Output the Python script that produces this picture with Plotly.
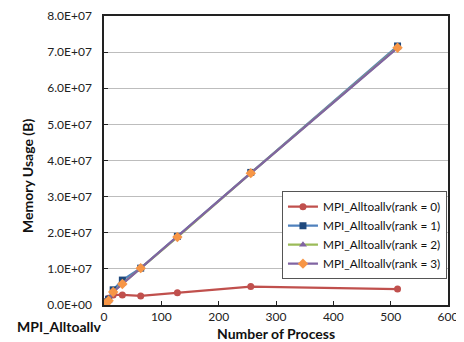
import plotly.graph_objects as go

procs = [2, 4, 8, 16, 32, 64, 128, 256, 512]
rank0 = [0.5e6, 1.0e6, 1.9e6, 2.8e6, 2.8e6, 2.5e6, 3.4e6, 5.1e6, 4.4e6]
rank1 = [0.3e6, 0.8e6, 1.6e6, 4.2e6, 6.9e6, 1.02e7, 1.9e7, 3.67e7, 7.17e7]
rank2 = [0.2e6, 0.5e6, 1.2e6, 3.7e6, 5.9e6, 1.02e7, 1.88e7, 3.65e7, 7.13e7]
rank3 = [0.2e6, 0.5e6, 1.2e6, 3.6e6, 5.8e6, 1.02e7, 1.88e7, 3.65e7, 7.12e7]
names = ["MPI_Alltoallv(rank = 0)", "MPI_Alltoallv(rank = 1)",
         "MPI_Alltoallv(rank = 2)", "MPI_Alltoallv(rank = 3)"]
ytick_vals = [0, 1e7, 2e7, 3e7, 4e7, 5e7, 6e7, 7e7, 8e7]
ytick_text = ["0.0E+00", "1.0E+07", "2.0E+07", "3.0E+07", "4.0E+07",
              "5.0E+07", "6.0E+07", "7.0E+07", "8.0E+07"]
xtick_vals = [0, 100, 200, 300, 400, 500, 600]

FONT = "Lato, 'Liberation Sans', sans-serif"

styles = [
    dict(line="#C0504D", marker="#C0504D", symbol="circle", size=7),
    dict(line="#4F81BD", marker="#1F497D", symbol="square", size=7),
    dict(line="#9BBB59", marker="#8064A2", symbol="triangle-up", size=7),
    dict(line="#8064A2", marker="#F79646", symbol="diamond", size=8),
]

fig = go.Figure()
for ys, nm, st in zip([rank0, rank1, rank2, rank3], names, styles):
    fig.add_trace(go.Scatter(
        x=procs, y=ys, name=nm, mode="lines+markers",
        line=dict(color=st["line"], width=2.2),
        marker=dict(color=st["marker"], symbol=st["symbol"], size=st["size"]),
    ))

# page body has an 8px default margin; size the figure so it fills the window
fig.update_layout(
    width=456, height=334,
    margin=dict(l=96, r=16, t=8, b=37),
    paper_bgcolor="white", plot_bgcolor="white",
    font=dict(family=FONT, size=12, color="#222"),
    showlegend=True,
    legend=dict(x=0.997, xanchor="right", y=0.394, yanchor="top",
                bgcolor="white", bordercolor="#555", borderwidth=1,
                font=dict(size=11.8, color="#111"), tracegroupgap=0,
                itemwidth=30),
    xaxis=dict(range=[0, 600], tickvals=xtick_vals, showgrid=False,
               showline=True, linecolor="#222", linewidth=1.5, mirror=True,
               ticks="inside", ticklen=4, tickcolor="#222", zeroline=False,
               automargin=False),
    yaxis=dict(range=[0, 8e7], tickvals=ytick_vals, ticktext=ytick_text,
               showgrid=True, gridcolor="#BDBDBD", gridwidth=1,
               showline=True, linecolor="#222", linewidth=1.5, mirror=True,
               ticks="inside", ticklen=4, tickcolor="#222", zeroline=False,
               ticklabelstandoff=8, automargin=False),
    annotations=[
        dict(text="<b>MPI_Alltoallv</b>", xref="paper", yref="paper",
             x=-0.259, y=-0.073, xanchor="left", yanchor="middle",
             showarrow=False, font=dict(size=14, color="#111")),
        dict(text="<b>Number of Process</b>", xref="paper", yref="paper",
             x=0.5, y=-0.097, xanchor="center", yanchor="middle",
             showarrow=False, font=dict(size=14, color="#111")),
        dict(text="<b>Memory Usage (B)</b>", xref="paper", yref="paper",
             x=-0.224, y=0.446, xanchor="center", yanchor="middle",
             textangle=-90, showarrow=False, font=dict(size=14, color="#111")),
    ],
)

fig.write_html("out.html")
